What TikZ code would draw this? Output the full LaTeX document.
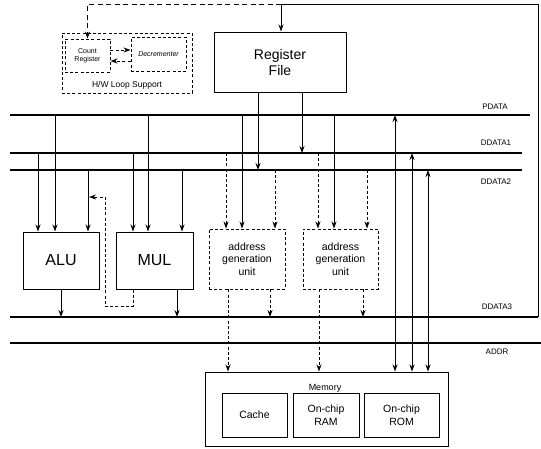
\documentclass[tikz,border=0pt]{standalone}
\usepackage{fontspec}
\setmainfont{Liberation Sans}
\usetikzlibrary{arrows.meta}
\begin{document}
\begin{tikzpicture}[x=1pt,y=-1pt,
  box/.style={draw,line width=1pt,inner sep=0pt,align=center},
  dbox/.style={draw,line width=0.9pt,dash pattern=on 3pt off 2.2pt,inner sep=0pt,align=center},
  bus/.style={line width=1.8pt},
  ln/.style={line width=1pt},
  arr/.style={line width=0.9pt,-{Stealth[length=7pt,width=5pt]}},
  darr/.style={line width=0.9pt,dash pattern=on 3pt off 2.2pt,-{Stealth[length=7pt,width=5pt]}},
  barr/.style={line width=0.9pt,{Stealth[length=7pt,width=5pt]}-{Stealth[length=7pt,width=5pt]}},
  lbl/.style={font=\fontsize{8}{9}\selectfont,inner sep=0pt}]
\useasboundingbox (0,0) rectangle (541,448);
% bus coordinates
\coordinate (pdL) at (10,115);  \coordinate (pdR) at (530,115);
\coordinate (d1L) at (10,153);  \coordinate (d1R) at (522,153);
\coordinate (d2L) at (10,170);  \coordinate (d2R) at (522,170);
\coordinate (d3L) at (10,317);  \coordinate (d3R) at (538,317);
\coordinate (adL) at (10,343);  \coordinate (adR) at (541,343);
\draw[bus] (pdL) -- (pdR);
\draw[bus] (d1L) -- (d1R);
\draw[bus] (d2L) -- (d2R);
\draw[bus] (d3L) -- (d3R);
\draw[bus] (adL) -- (adR);
\node[lbl] (lpd) at (495,107) {PDATA};
\node[lbl] (ld1) at (496,143) {DDATA1};
\node[lbl] (ld2) at (496,182) {DDATA2};
\node[lbl] (ld3) at (497,307) {DDATA3};
\node[lbl] (lad) at (497,352) {ADDR};
% loop support
\node[dbox,minimum width=130pt,minimum height=60pt] (hw) at (127,63) {};
\node[dbox,minimum width=45pt,minimum height=33pt,font=\fontsize{7}{8}\selectfont] (cr) at (87.5,55.5) {Count\\Register};
\node[dbox,minimum width=55pt,minimum height=34pt,font=\fontsize{7}{8}\selectfont\itshape] (dec) at (158.5,54) {Decrementer};
\node[font=\fontsize{8.5}{10}\selectfont,inner sep=0pt] (hwl) at (127,85) {H/W Loop Support};
\draw[darr] (cr.east |- 0,50) -- (dec.west |- 0,50);
\draw[darr] (dec.west |- 0,61) -- (cr.east |- 0,61);
% register file
\node[box,minimum width=132pt,minimum height=60pt,font=\fontsize{14}{16}\selectfont] (rf) at (280,62) {Register\\File};
% units
\node[box,minimum width=76pt,minimum height=57pt,font=\fontsize{16}{18}\selectfont] (alu) at (61,260.5) {ALU};
\node[box,minimum width=77pt,minimum height=57pt,font=\fontsize{16}{18}\selectfont] (mul) at (154.5,260.5) {MUL};
\node[dbox,minimum width=76pt,minimum height=60pt,font=\fontsize{10.5}{12.5}\selectfont] (agu1) at (247,259) {address\\generation\\unit};
\node[dbox,minimum width=75pt,minimum height=60pt,font=\fontsize{10.5}{12.5}\selectfont] (agu2) at (340.5,259) {address\\generation\\unit};
% memory
\node[box,minimum width=243pt,minimum height=74pt] (mem) at (326.5,409) {};
\node[font=\fontsize{9}{10}\selectfont,inner sep=0pt] (meml) at (325,388) {Memory};
\node[box,minimum width=65pt,minimum height=44pt,font=\fontsize{10.5}{12.5}\selectfont] (cache) at (254.5,415) {Cache};
\node[box,minimum width=66pt,minimum height=44pt,font=\fontsize{10.5}{12.5}\selectfont] (ram) at (326,415) {On-chip\\RAM};
\node[box,minimum width=75pt,minimum height=44pt,font=\fontsize{10.5}{12.5}\selectfont] (rom) at (401.5,415) {On-chip\\ROM};
% feedback from DDATA3
\coordinate (tr) at (538,4);
\coordinate (tm) at (281,4);
\coordinate (tl) at (87.5,4);
\draw[ln] (d3R) -- (tr) -- (tm);
\draw[arr] (tm) -- (rf.north -| tm);
\draw[darr,dash pattern=on 5pt off 3.5pt] (tm) -- (tl) -- (cr.north);
% register file outputs
\draw[arr] (rf.south -| 258,0) -- (258,0 |- d2L);
\draw[arr] (rf.south -| 302,0) -- (302,0 |- d1L);
% ALU inputs
\draw[arr] (38,0 |- d1L) -- (38,0 |- alu.north);
\draw[arr] (55,0 |- pdL) -- (55,0 |- alu.north);
\draw[arr] (88,0 |- d2L) -- (88,0 |- alu.north);
% MUL inputs
\draw[arr] (133,0 |- d1L) -- (133,0 |- mul.north);
\draw[arr] (148,0 |- pdL) -- (148,0 |- mul.north);
\draw[arr] (182,0 |- d2L) -- (182,0 |- mul.north);
% AGU1 inputs
\draw[darr] (226,0 |- d1L) -- (226,0 |- agu1.north);
\draw[arr] (242,0 |- pdL) -- (242,0 |- agu1.north);
\draw[darr] (275,0 |- d2L) -- (275,0 |- agu1.north);
% AGU2 inputs
\draw[darr] (318,0 |- d1L) -- (318,0 |- agu2.north);
\draw[arr] (334,0 |- pdL) -- (334,0 |- agu2.north);
\draw[darr] (367,0 |- d2L) -- (367,0 |- agu2.north);
% outputs
\draw[arr] (alu.south) -- (alu.south |- d3L);
\draw[arr] (177,0 |- mul.south) -- (177,0 |- d3L);
\draw[darr] (133,0 |- mul.south) -- (133,306) -- (105,306) -- (105,197) -- (89,197);
\draw[darr] (228,0 |- agu1.south) -- (228,0 |- mem.north);
\draw[darr] (270,0 |- agu1.south) -- (270,0 |- d3L);
\draw[darr] (319,0 |- agu2.south) -- (319,0 |- mem.north);
\draw[darr] (363,0 |- agu2.south) -- (363,0 |- d3L);
% memory bidirectional
\draw[barr] (395,0 |- pdL) -- (395,0 |- mem.north);
\draw[barr] (412,0 |- d1L) -- (412,0 |- mem.north);
\draw[barr] (428,0 |- d2L) -- (428,0 |- mem.north);
\end{tikzpicture}
\end{document}
